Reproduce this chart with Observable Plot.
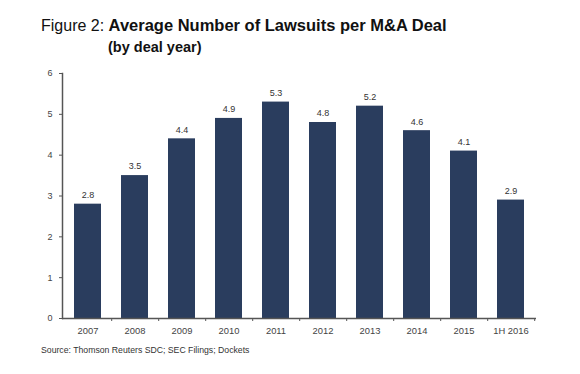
<!DOCTYPE html>
<html>
<head>
<meta charset="utf-8">
<script src="https://cdn.jsdelivr.net/npm/d3@7"></script>
<script src="https://cdn.jsdelivr.net/npm/@observablehq/plot@0.6"></script>
<style>
  html, body { margin: 0; padding: 0; background: #fff; }
  body { width: 580px; height: 374px; position: relative; overflow: hidden; font-family: "Liberation Sans", Arial, sans-serif; }
  #title { position: absolute; left: 41px; top: 17.4px; font-size: 16px; line-height: 16px; color: #111; white-space: nowrap; }
  #title b { font-weight: bold; font-size: 16.5px; }
  #subtitle { position: absolute; left: 108px; top: 39.7px; font-size: 14.5px; line-height: 14.5px; font-weight: bold; color: #111; white-space: nowrap; }
  #chart { position: absolute; left: 0; top: 60px; }
  #source { position: absolute; left: 41px; top: 345.6px; font-size: 8.7px; line-height: 8.7px; color: #333; white-space: nowrap; }
</style>
</head>
<body>
<div id="title">Figure 2: <b>Average Number of Lawsuits per M&amp;A Deal</b></div>
<div id="subtitle">(by deal year)</div>
<div id="chart"></div>
<div id="source">Source: Thomson Reuters SDC; SEC Filings; Dockets</div>
<script>
const categories = ["2007", "2008", "2009", "2010", "2011", "2012", "2013", "2014", "2015", "1H 2016"];
const values = [2.8, 3.5, 4.4, 4.9, 5.3, 4.8, 5.2, 4.6, 4.1, 2.9];
const yTicks = [0, 1, 2, 3, 4, 5, 6];

const data = categories.map((c, i) => ({cat: c, v: values[i]}));

const W = 580, ML = 62, MR = 44;
const step = (W - ML - MR) / categories.length;

const chart = Plot.plot({
  width: W,
  height: 280,
  marginTop: 13,
  marginBottom: 22,
  marginLeft: ML,
  marginRight: MR,
  style: {fontFamily: "Liberation Sans, Arial, sans-serif", fontSize: "9px", color: "#444", background: "white"},
  x: {domain: categories, paddingInner: 0.43, paddingOuter: 0.215, label: null},
  y: {domain: [0, 6], label: null},
  marks: [
    Plot.barY(data, {x: "cat", y: "v", fill: "#2a3d5e"}),
    Plot.text(data, {x: "cat", y: "v", text: d => d.v.toFixed(1), dy: -9, fill: "#333", fontSize: 9}),
    Plot.axisY({ticks: yTicks, tickSize: 3, tickPadding: 7, tickFormat: d => String(d), fill: "#444", stroke: "#555", fontSize: 9}),
    Plot.axisX({tickSize: 0, tickPadding: 8.5, fill: "#444", fontSize: 9.4}),
    Plot.axisX({tickSize: 3, tickFormat: () => "", dx: step / 2, stroke: "#555"}),
    Plot.ruleY([0], {stroke: "#555", strokeWidth: 1.5}),
    Plot.frame({anchor: "left", stroke: "#555", strokeWidth: 1.5})
  ]
});
document.getElementById("chart").appendChild(chart);
</script>
</body>
</html>
